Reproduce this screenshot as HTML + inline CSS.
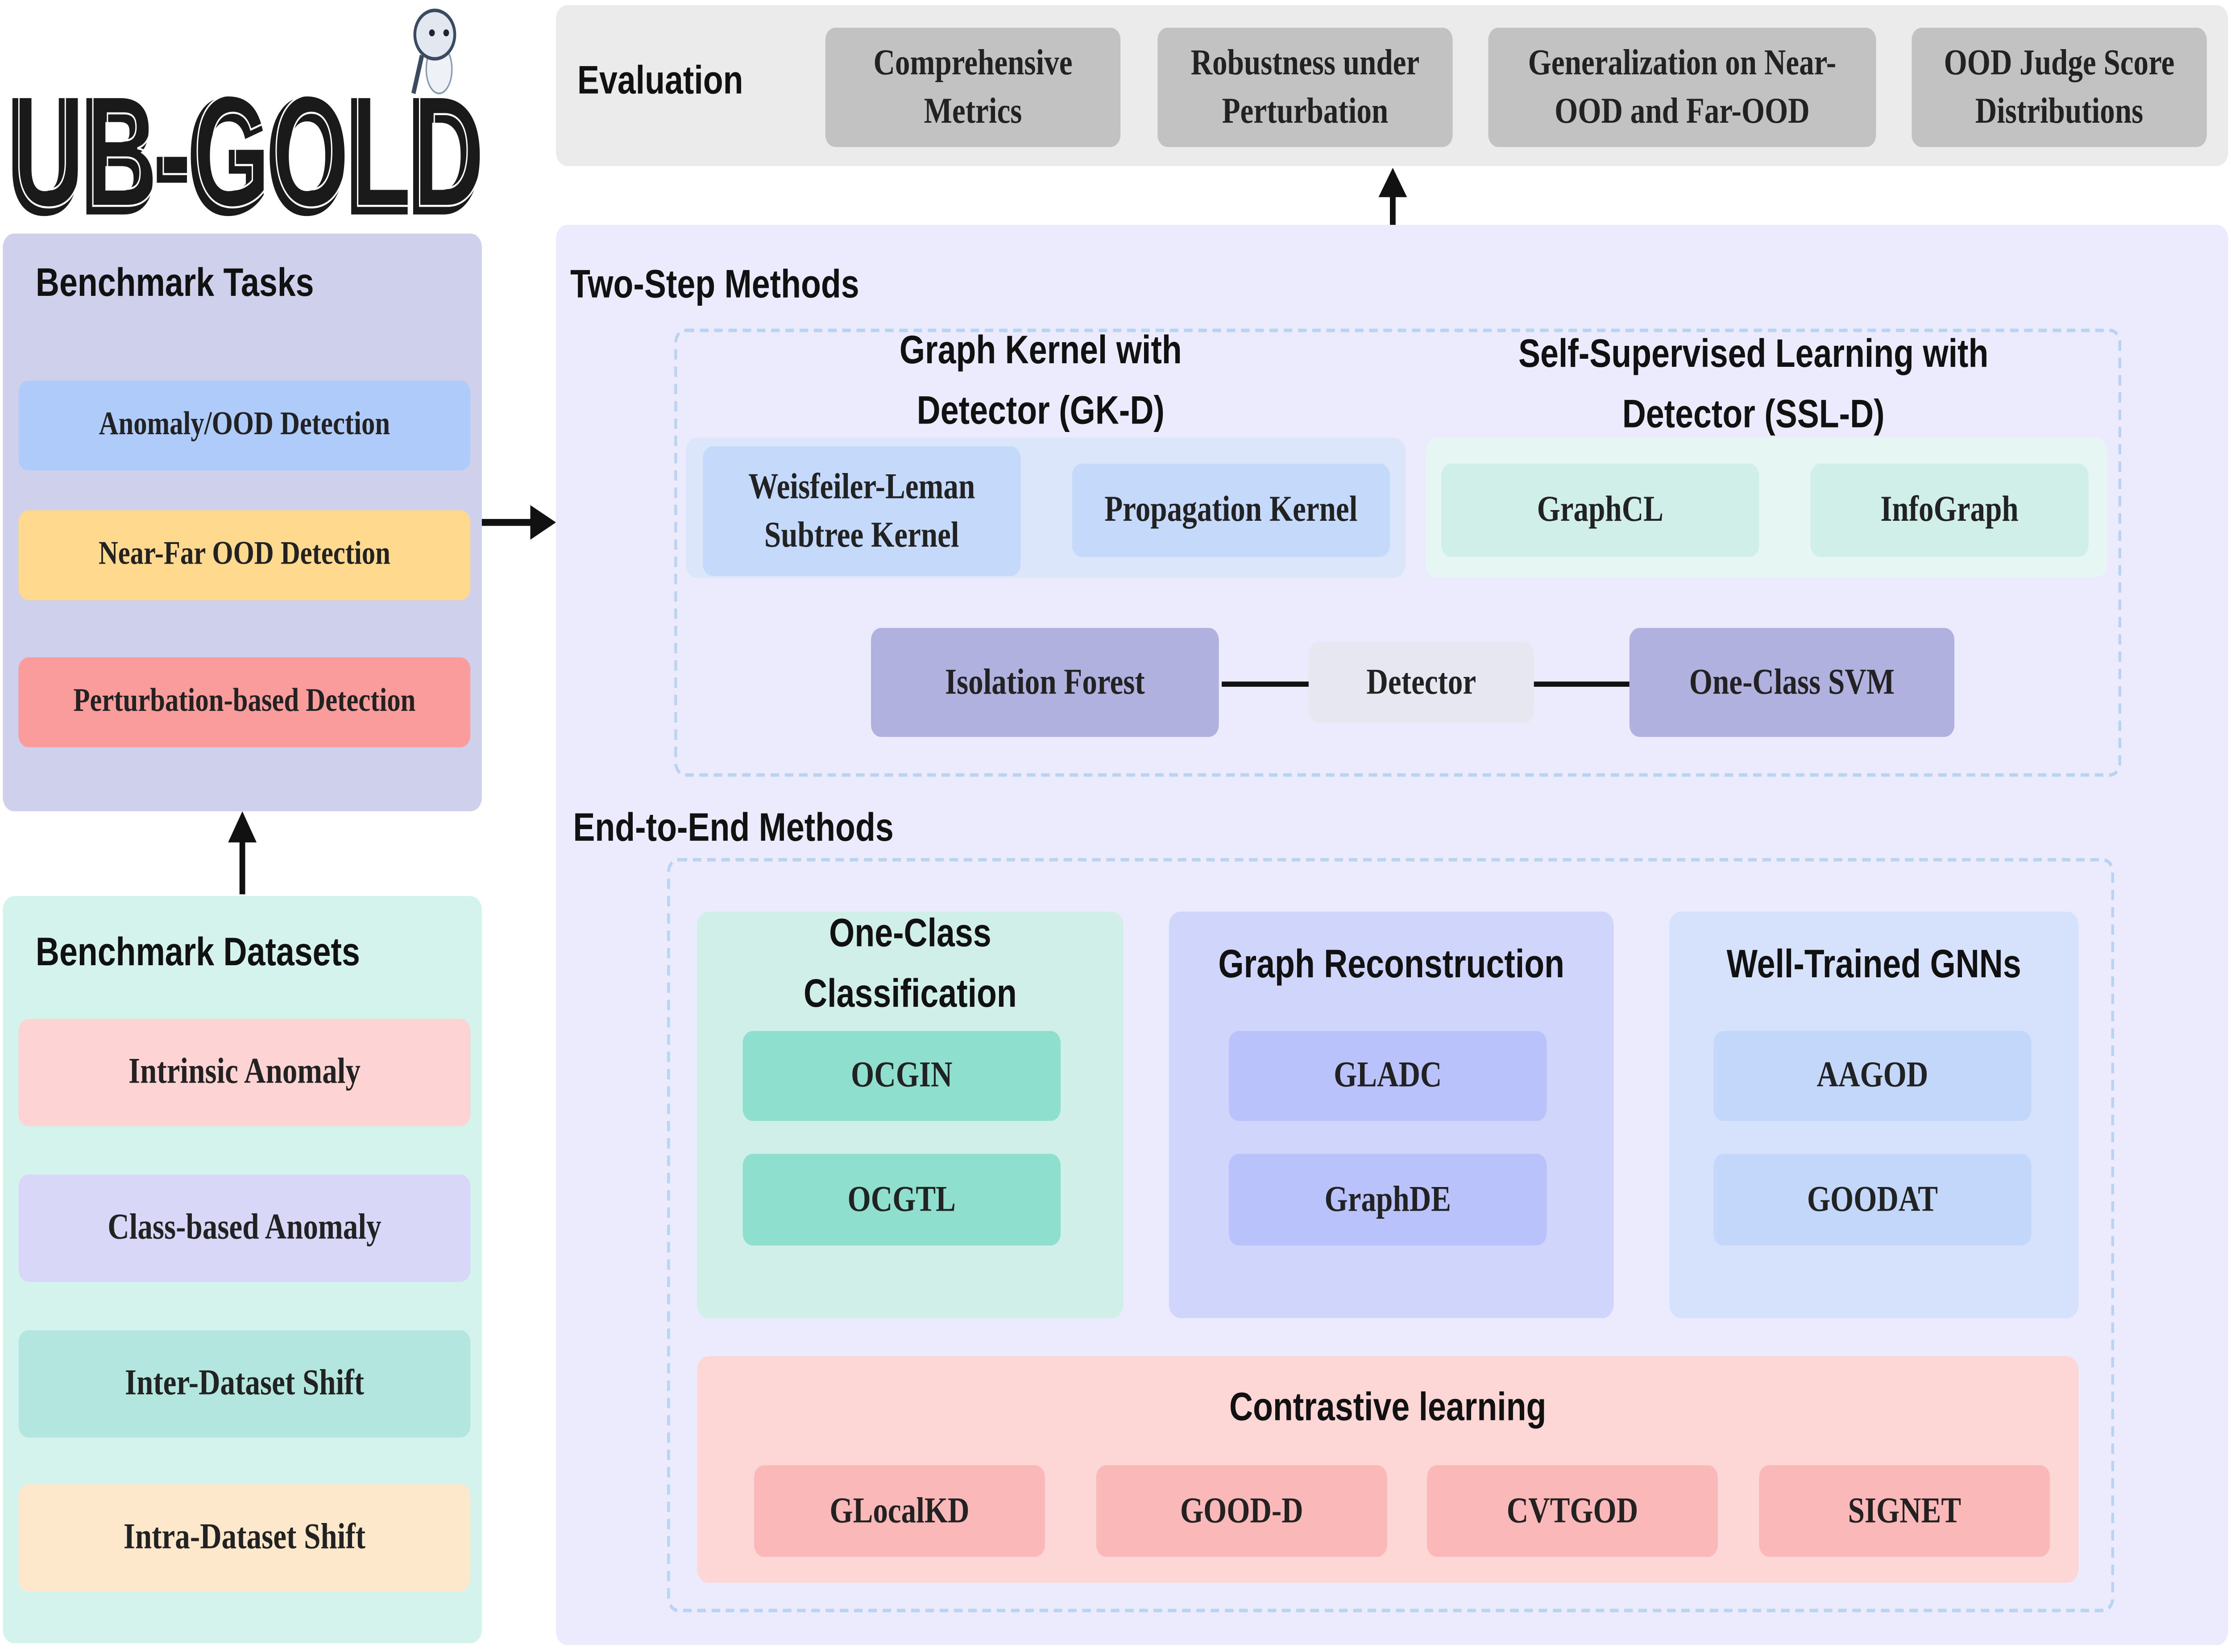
<!DOCTYPE html>
<html><head><meta charset="utf-8"><style>
html,body{margin:0;padding:0;background:#fff;width:100%;height:100%;overflow:hidden;}
svg.root{display:block;width:100vw;height:100vh;}
#c{position:relative;width:1565px;height:955px;}
#c div{position:absolute;box-sizing:border-box;}
.p{border-radius:8px;}
.b{border-radius:7px;display:flex;align-items:center;justify-content:center;text-align:center;font-family:"Liberation Serif",serif;font-weight:bold;font-size:21px;line-height:1.3;color:#222;}
.h{font-family:"Liberation Sans",sans-serif;font-weight:bold;font-size:23px;color:#111;line-height:1.5;white-space:nowrap;}
.hc{text-align:center;}
.dash{border:2px dashed #b9d3f3;border-radius:8px;}
.ln{background:#111;}
</style></head><body>
<svg class="root" viewBox="0 0 1565 955" preserveAspectRatio="none" xmlns="http://www.w3.org/2000/svg">
<foreignObject x="0" y="0" width="1565" height="955">
<div xmlns="http://www.w3.org/1999/xhtml" id="c">

<svg style="position:absolute;left:0;top:0" width="345" height="130" xmlns="http://www.w3.org/2000/svg">
<text x="6" y="122" font-family="Liberation Sans" font-weight="bold" font-size="92" textLength="332" lengthAdjust="spacingAndGlyphs" fill="#1a1a1a" stroke="#1a1a1a" stroke-width="4">UB-GOLD</text>
<text x="9" y="119" font-family="Liberation Sans" font-weight="bold" font-size="92" textLength="332" lengthAdjust="spacingAndGlyphs" fill="none" stroke="#fff" stroke-width="1.2">UB-GOLD</text>
<ellipse cx="308" cy="40" rx="9" ry="14" fill="#eef1f6" stroke="#8898b0" stroke-width="1"/>
<circle cx="305" cy="20" r="14" fill="#e3e8f0" stroke="#3a4a60" stroke-width="2"/>
<circle cx="303" cy="19" r="2" fill="#223"/><circle cx="313" cy="19" r="2" fill="#223"/>
<line x1="296" y1="32" x2="290" y2="54" stroke="#3a4a60" stroke-width="3"/>
</svg>

<div class="p" style="left:2px;top:135px;width:336px;height:334px;background:#cfd0ec"></div>
<div class="h" style="left:25px;top:146px">Benchmark Tasks</div>
<div class="b" style="left:13px;top:220px;width:317px;height:52px;background:#aecbfa;font-size:19px">Anomaly/OOD Detection</div>
<div class="b" style="left:13px;top:295px;width:317px;height:52px;background:#ffd98e;font-size:19px">Near-Far OOD Detection</div>
<div class="b" style="left:13px;top:380px;width:317px;height:52px;background:#fb9c9c;font-size:19px">Perturbation-based Detection</div>

<div class="ln" style="left:168px;top:484px;width:4px;height:33px"></div>
<svg style="position:absolute;left:160px;top:469px" width="20" height="18" xmlns="http://www.w3.org/2000/svg"><polygon points="10,0 20,18 0,18" fill="#111"/></svg>

<div class="p" style="left:2px;top:518px;width:336px;height:432px;background:#d3f3ec"></div>
<div class="h" style="left:25px;top:533px">Benchmark Datasets</div>
<div class="b" style="left:13px;top:589px;width:317px;height:62px;background:#fdd3d3">Intrinsic Anomaly</div>
<div class="b" style="left:13px;top:679px;width:317px;height:62px;background:#d8d7f8">Class-based Anomaly</div>
<div class="b" style="left:13px;top:769px;width:317px;height:62px;background:#b2e6de">Inter-Dataset Shift</div>
<div class="b" style="left:13px;top:858px;width:317px;height:62px;background:#fde8cc">Intra-Dataset Shift</div>

<div class="ln" style="left:338px;top:300px;width:36px;height:4px"></div>
<svg style="position:absolute;left:372px;top:292px" width="18" height="20" xmlns="http://www.w3.org/2000/svg"><polygon points="18,10 0,0 0,20" fill="#111"/></svg>

<div class="p" style="left:390px;top:3px;width:1173px;height:93px;background:#ebebeb"></div>
<div class="h" style="left:405px;top:29px">Evaluation</div>
<div class="b" style="left:579px;top:16px;width:207px;height:69px;background:#c2c2c2">Comprehensive<br/>Metrics</div>
<div class="b" style="left:812px;top:16px;width:207px;height:69px;background:#c2c2c2">Robustness under<br/>Perturbation</div>
<div class="b" style="left:1044px;top:16px;width:272px;height:69px;background:#c2c2c2">Generalization on Near-<br/>OOD and Far-OOD</div>
<div class="b" style="left:1341px;top:16px;width:207px;height:69px;background:#c2c2c2">OOD Judge Score<br/>Distributions</div>

<div class="ln" style="left:975px;top:112px;width:4px;height:18px"></div>
<svg style="position:absolute;left:967px;top:97px" width="20" height="17" xmlns="http://www.w3.org/2000/svg"><polygon points="10,0 20,17 0,17" fill="#111"/></svg>

<div class="p" style="left:390px;top:130px;width:1173px;height:821px;background:#ebebfd"></div>
<div class="h" style="left:400px;top:147px">Two-Step Methods</div>
<div class="dash" style="left:473px;top:190px;width:1015px;height:259px"></div>
<div class="h hc" style="left:530px;top:185px;width:400px;line-height:35px">Graph Kernel with<br/>Detector (GK-D)</div>
<div class="h hc" style="left:1000px;top:187px;width:460px;line-height:35px">Self-Supervised Learning with<br/>Detector (SSL-D)</div>

<div class="p" style="left:481px;top:253px;width:505px;height:81px;background:#dbe6fb"></div>
<div class="b" style="left:493px;top:258px;width:223px;height:75px;background:#c5dafb">Weisfeiler-Leman<br/>Subtree Kernel</div>
<div class="b" style="left:752px;top:268px;width:223px;height:54px;background:#c5dafb">Propagation Kernel</div>
<div class="p" style="left:1000px;top:253px;width:478px;height:81px;background:#e5f6f3"></div>
<div class="b" style="left:1011px;top:268px;width:223px;height:54px;background:#d0efe8">GraphCL</div>
<div class="b" style="left:1270px;top:268px;width:195px;height:54px;background:#d0efe8">InfoGraph</div>

<div class="b" style="left:611px;top:363px;width:244px;height:63px;background:#b1b1df">Isolation Forest</div>
<div class="ln" style="left:857px;top:394px;width:61px;height:2.5px"></div>
<div class="b" style="left:918px;top:371px;width:158px;height:47px;background:#e7e7f1">Detector</div>
<div class="ln" style="left:1076px;top:394px;width:67px;height:2.5px"></div>
<div class="b" style="left:1143px;top:363px;width:228px;height:63px;background:#b1b1df">One-Class SVM</div>

<div class="h" style="left:402px;top:461px">End-to-End Methods</div>
<div class="dash" style="left:468px;top:496px;width:1015px;height:436px"></div>

<div class="p" style="left:489px;top:527px;width:299px;height:235px;background:#d0efe8"></div>
<div class="h hc" style="left:489px;top:522px;width:299px;line-height:35px">One-Class<br/>Classification</div>
<div class="b" style="left:521px;top:596px;width:223px;height:52px;background:#8fdfcf">OCGIN</div>
<div class="b" style="left:521px;top:667px;width:223px;height:53px;background:#8fdfcf">OCGTL</div>

<div class="p" style="left:820px;top:527px;width:312px;height:235px;background:#d0d5fb"></div>
<div class="h hc" style="left:820px;top:540px;width:312px">Graph Reconstruction</div>
<div class="b" style="left:862px;top:596px;width:223px;height:52px;background:#bac2fb">GLADC</div>
<div class="b" style="left:862px;top:667px;width:223px;height:53px;background:#bac2fb">GraphDE</div>

<div class="p" style="left:1171px;top:527px;width:287px;height:235px;background:#d6e2fb"></div>
<div class="h hc" style="left:1171px;top:540px;width:287px">Well-Trained GNNs</div>
<div class="b" style="left:1202px;top:596px;width:223px;height:52px;background:#c3d7fa">AAGOD</div>
<div class="b" style="left:1202px;top:667px;width:223px;height:53px;background:#c3d7fa">GOODAT</div>

<div class="p" style="left:489px;top:784px;width:969px;height:131px;background:#fdd6d6"></div>
<div class="h hc" style="left:489px;top:796px;width:969px">Contrastive learning</div>
<div class="b" style="left:529px;top:847px;width:204px;height:53px;background:#fbb8b8">GLocalKD</div>
<div class="b" style="left:769px;top:847px;width:204px;height:53px;background:#fbb8b8">GOOD-D</div>
<div class="b" style="left:1001px;top:847px;width:204px;height:53px;background:#fbb8b8">CVTGOD</div>
<div class="b" style="left:1234px;top:847px;width:204px;height:53px;background:#fbb8b8">SIGNET</div>

</div>
</foreignObject>
</svg>
</body></html>
